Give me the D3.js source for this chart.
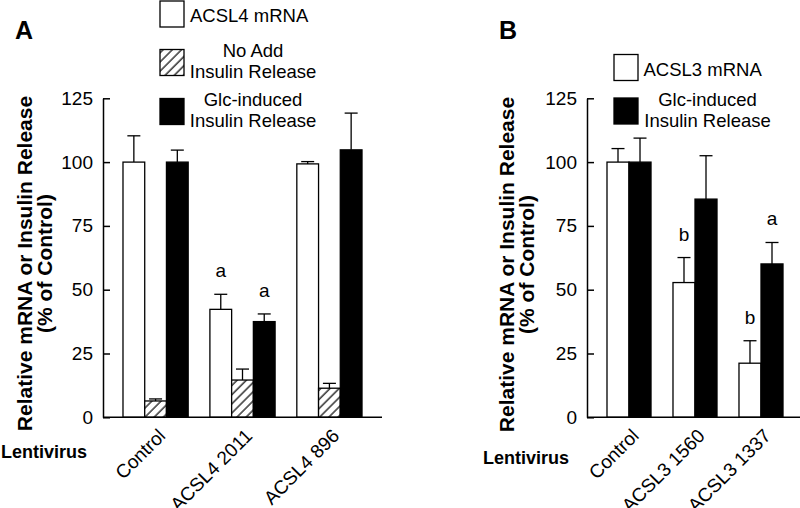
<!DOCTYPE html>
<html>
<head>
<meta charset="utf-8">
<script src="https://cdn.jsdelivr.net/npm/d3@7"></script>
<style>
  html, body { margin: 0; padding: 0; background: #fff; }
  svg { display: block; font-family: "Liberation Sans", Arial, Helvetica, sans-serif; }
</style>
</head>
<body>
<svg id="chart" width="800" height="508"></svg>
<script>
// ---------- Data ----------
const yTicks = [0, 25, 50, 75, 100, 125];

// Panel A
const categoriesA = ["Control", "ACSL4 2011", "ACSL4 896"];
const acsl4mRNA = [100, 42.3, 99.3];
const acsl4mRNAErr = [10.3, 5.9, 0.9];
const noAddInsulinA = [6.4, 14.6, 11.4];
const noAddInsulinAErr = [0.8, 4.3, 1.9];
const glcInsulinA = [100, 37.5, 104.8];
const glcInsulinAErr = [4.7, 3.0, 14.4];
const lettersA_mRNA = ["", "a", ""];
const lettersA_noAdd = ["", "", ""];
const lettersA_glc = ["", "a", ""];

// Panel B
const categoriesB = ["Control", "ACSL3 1560", "ACSL3 1337"];
const acsl3mRNA = [100, 52.8, 21.2];
const acsl3mRNAErr = [5.3, 9.8, 8.8];
const glcInsulinB = [100, 85.5, 60.1];
const glcInsulinBErr = [9.4, 17.0, 8.4];
const lettersB_mRNA = ["", "b", "b"];
const lettersB_glc = ["", "", "a"];

// ---------- Drawing ----------
const svg = d3.select("#chart");
const defs = svg.append("defs");
const pat = defs.append("pattern")
  .attr("id", "hatch")
  .attr("patternUnits", "userSpaceOnUse")
  .attr("width", 6.5).attr("height", 6.5)
  .attr("patternTransform", "rotate(45)");
pat.append("rect").attr("width", 6.5).attr("height", 6.5).attr("fill", "#fff");
pat.append("line").attr("x1", 1).attr("y1", 0).attr("x2", 1).attr("y2", 6.5)
  .attr("stroke", "#000").attr("stroke-width", 1.2);

const fillFor = { white: "#fff", hatch: "url(#hatch)", black: "#000" };
const FS = 19;

function drawPanel(opts) {
  const g = svg.append("g");
  const y = d3.scaleLinear().domain([0, 125]).range([417.3, 98.3]);
  const x0 = d3.scaleBand().domain(opts.categories).range(opts.xRange)
    .paddingInner(opts.pi).paddingOuter(opts.po);
  const x1 = d3.scaleBand().domain(opts.series.map((s, i) => i)).range([0, x0.bandwidth()]);

  // bars
  opts.series.forEach((s, si) => {
    const gs = g.append("g");
    opts.categories.forEach((c, ci) => {
      const v = s.values[ci], e = s.err[ci];
      const bx = x0(c) + x1(si);
      const bw = x1.bandwidth();
      const cx = bx + bw / 2;
      gs.append("rect")
        .attr("x", bx).attr("y", y(v))
        .attr("width", bw).attr("height", y(0) - y(v))
        .attr("fill", fillFor[s.style]).attr("stroke", "#000").attr("stroke-width", 1.3);
      // error bar (upward)
      gs.append("line").attr("x1", cx).attr("x2", cx).attr("y1", y(v)).attr("y2", y(v + e))
        .attr("stroke", "#000").attr("stroke-width", 1.3);
      gs.append("line").attr("x1", cx - 6.5).attr("x2", cx + 6.5).attr("y1", y(v + e)).attr("y2", y(v + e))
        .attr("stroke", "#000").attr("stroke-width", 1.3);
      const L = s.letters[ci];
      if (L) {
        gs.append("text").attr("x", cx).attr("y", y(v + e) - 17)
          .attr("text-anchor", "middle").attr("font-size", FS).text(L);
      }
    });
  });

  // y axis
  const ya = g.append("g").attr("transform", `translate(${opts.xRange[0]},0)`)
    .call(d3.axisLeft(y).tickValues(yTicks).tickSizeInner(-7).tickSizeOuter(0).tickPadding(10));
  ya.select(".domain").attr("stroke-width", 1.5);
  ya.selectAll(".tick line").attr("stroke-width", 1.5);
  ya.selectAll(".tick text").attr("font-size", FS).attr("fill", "#000")
    .attr("font-family", '"Liberation Sans", Arial, sans-serif');

  // x baseline
  g.append("line").attr("x1", opts.xRange[0]).attr("x2", opts.xRange[1])
    .attr("y1", y(0)).attr("y2", y(0)).attr("stroke", "#000").attr("stroke-width", 1.5);

  // x labels
  opts.categories.forEach(c => {
    const cx = x0(c) + x0.bandwidth() / 2;
    g.append("text")
      .attr("transform", `translate(${cx + 11},${437}) rotate(-45)`)
      .attr("text-anchor", "end").attr("font-size", FS).text(c);
  });

  // Lentivirus
  g.append("text").attr("x", opts.lentiX).attr("y", opts.lentiY)
    .attr("font-size", 18).attr("font-weight", "bold").text("Lentivirus");

  // y title
  const yt = g.append("text").attr("transform", `translate(${opts.titleX},${opts.titleY}) rotate(-90)`)
    .attr("text-anchor", "middle").attr("font-size", 21).attr("font-weight", "bold");
  yt.append("tspan").attr("x", 0).attr("y", 0).text("Relative mRNA or Insulin Release");
  yt.append("tspan").attr("x", 0).attr("y", 20).text("(% of Control)");

  // panel letter
  g.append("text").attr("x", opts.letterX).attr("y", 39)
    .attr("font-size", 25).attr("font-weight", "bold").text(opts.letter);

  // legend
  opts.legend.forEach(l => {
    g.append("rect").attr("x", l.bx).attr("y", l.by).attr("width", 24).attr("height", 26)
      .attr("fill", fillFor[l.style]).attr("stroke", "#000").attr("stroke-width", 1.3);
    l.lines.forEach((t, i) => {
      g.append("text").attr("x", l.tx).attr("y", l.ty + i * 21.5)
        .attr("text-anchor", l.anchor).attr("font-size", 18.5).text(t);
    });
  });
}

drawPanel({
  letter: "A", letterX: 15,
  categories: categoriesA,
  xRange: [103, 382], pi: 0.25, po: 0.23,
  series: [
    { style: "white", values: acsl4mRNA, err: acsl4mRNAErr, letters: lettersA_mRNA },
    { style: "hatch", values: noAddInsulinA, err: noAddInsulinAErr, letters: lettersA_noAdd },
    { style: "black", values: glcInsulinA, err: glcInsulinAErr, letters: lettersA_glc }
  ],
  lentiX: 1, lentiY: 458, titleX: 32, titleY: 263.5,
  legend: [
    { style: "white", bx: 160, by: 1, tx: 190, ty: 21.5, anchor: "start", lines: ["ACSL4 mRNA"] },
    { style: "hatch", bx: 160, by: 49.5, tx: 253, ty: 56.5, anchor: "middle", lines: ["No Add", "Insulin Release"] },
    { style: "black", bx: 160, by: 98.5, tx: 253, ty: 105.7, anchor: "middle", lines: ["Glc-induced", "Insulin Release"] }
  ]
});

drawPanel({
  letter: "B", letterX: 499,
  categories: categoriesB,
  xRange: [587, 803], pi: 0.333, po: 0.303,
  series: [
    { style: "white", values: acsl3mRNA, err: acsl3mRNAErr, letters: lettersB_mRNA },
    { style: "black", values: glcInsulinB, err: glcInsulinBErr, letters: lettersB_glc }
  ],
  lentiX: 483, lentiY: 464, titleX: 514, titleY: 264.5,
  legend: [
    { style: "white", bx: 614, by: 54.5, tx: 643.5, ty: 75.5, anchor: "start", lines: ["ACSL3 mRNA"] },
    { style: "black", bx: 614, by: 98, tx: 707.5, ty: 105.8, anchor: "middle", lines: ["Glc-induced", "Insulin Release"] }
  ]
});
</script>
</body>
</html>
